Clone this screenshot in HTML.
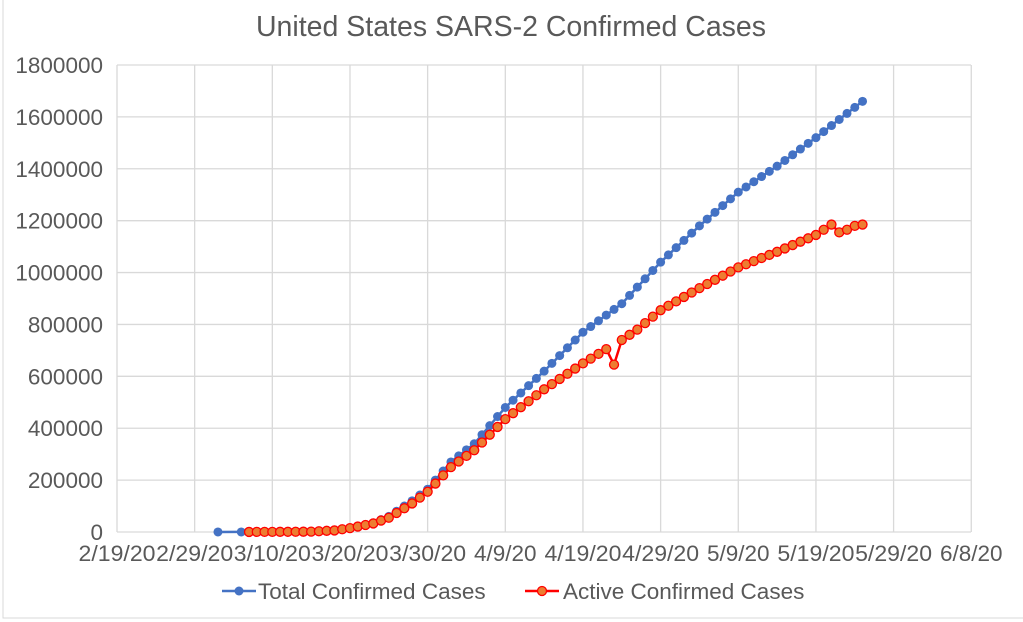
<!DOCTYPE html><html><head><meta charset="utf-8"><style>body{margin:0;background:#fff}svg{display:block;font-family:"Liberation Sans",sans-serif}</style></head><body>
<svg id="s" width="1023" height="622" xmlns="http://www.w3.org/2000/svg">
<rect x="3" y="-2" width="1030" height="620" fill="#fff" stroke="#d9d9d9"/>
<text x="511" y="36" text-anchor="middle" font-size="28.5" fill="#595959">United States SARS-2 Confirmed Cases</text>
<g id="g"></g>
<g font-size="22.5" fill="#595959">
<line x1="222" y1="591" x2="256" y2="591" stroke="#4472c4" stroke-width="2.5"/><circle cx="239" cy="591" r="4.5" fill="#4472c4"/>
<text x="258" y="599">Total Confirmed Cases</text>
<line x1="525" y1="591" x2="559" y2="591" stroke="#ff0000" stroke-width="2.5"/><circle cx="542" cy="591" r="4.5" fill="#ed7d31" stroke="#ff0000" stroke-width="1.3"/>
<text x="563" y="599">Active Confirmed Cases</text>
</g>
</svg>
<script>
var g=document.getElementById('g'),h='';
function Y(v){return 532-v/1800000*467}function X(d){return 117+d*7.766}
for(var i=0;i<=9;i++){var y=Y(i*200000);h+='<line x1="117" x2="971" y1="'+y+'" y2="'+y+'" stroke="#d9d9d9" stroke-width="1.3"/>';h+='<text x="103" y="'+(y+8)+'" text-anchor="end" font-size="22.5" fill="#595959">'+(i*200000)+'</text>';}
var lab=['2/19/20','2/29/20','3/10/20','3/20/20','3/30/20','4/9/20','4/19/20','4/29/20','5/9/20','5/19/20','5/29/20','6/8/20'];
for(var i=0;i<12;i++){var x=X(i*10);h+='<line x1="'+x+'" x2="'+x+'" y1="65" y2="532" stroke="#d9d9d9" stroke-width="1.3"/>';var tl=lab[i].length==7?' textLength="77" lengthAdjust="spacingAndGlyphs"':'';h+='<text x="'+x+'" y="561" text-anchor="middle" font-size="22.5" fill="#595959"'+tl+'>'+lab[i]+'</text>';}
function interp(a,d){for(var i=0;i<a.length-1;i++){if(d>=a[i][0]&&d<=a[i+1][0]){var t=(d-a[i][0])/(a[i+1][0]-a[i][0]);return a[i][1]+t*(a[i+1][1]-a[i][1]);}}return a[a.length-1][1];}
var T=[[13,100],[17,300],[22,800],[25,1500],[28,6000],[30,15000],[33,35000],[35,60000],[38,120000],[40,165000],[43,270000],[46,340000],[50,480000],[55,620000],[60,770000],[65,880000],[70,1040000],[75,1180000],[80,1310000],[85,1410000],[90,1520000],[96,1660000]];
var R=[[17,300],[22,800],[25,1500],[28,6000],[30,15000],[33,33000],[35,55000],[38,110000],[40,155000],[43,250000],[46,315000],[50,435000],[55,550000],[60,650000],[63,705000],[64,645000],[65,740000],[67,780000],[70,855000],[75,940000],[80,1020000],[85,1080000],[90,1145000],[92,1185000],[93,1155000],[94,1165000],[95,1180000],[96,1185000]];
var tp=[[13,interp(T,13)],[16,200]];for(var d=17;d<=96;d++)tp.push([d,interp(T,d)]);
var pts=tp.map(p=>X(p[0]).toFixed(1)+','+Y(p[1]).toFixed(1)).join(' ');
h+='<polyline points="'+pts+'" fill="none" stroke="#4472c4" stroke-width="2.5"/>';
tp.forEach(p=>h+='<circle cx="'+X(p[0])+'" cy="'+Y(p[1])+'" r="4.5" fill="#4472c4"/>');
var rp=[];for(var d=17;d<=96;d++)rp.push([d,interp(R,d)]);
h+='<polyline points="'+rp.map(p=>X(p[0]).toFixed(1)+','+Y(p[1]).toFixed(1)).join(' ')+'" fill="none" stroke="#ff0000" stroke-width="2.5"/>';
rp.forEach(p=>h+='<circle cx="'+X(p[0])+'" cy="'+Y(p[1])+'" r="4.5" fill="#ed7d31" stroke="#ff0000" stroke-width="1.3"/>');
g.innerHTML=h;
</script></body></html>
